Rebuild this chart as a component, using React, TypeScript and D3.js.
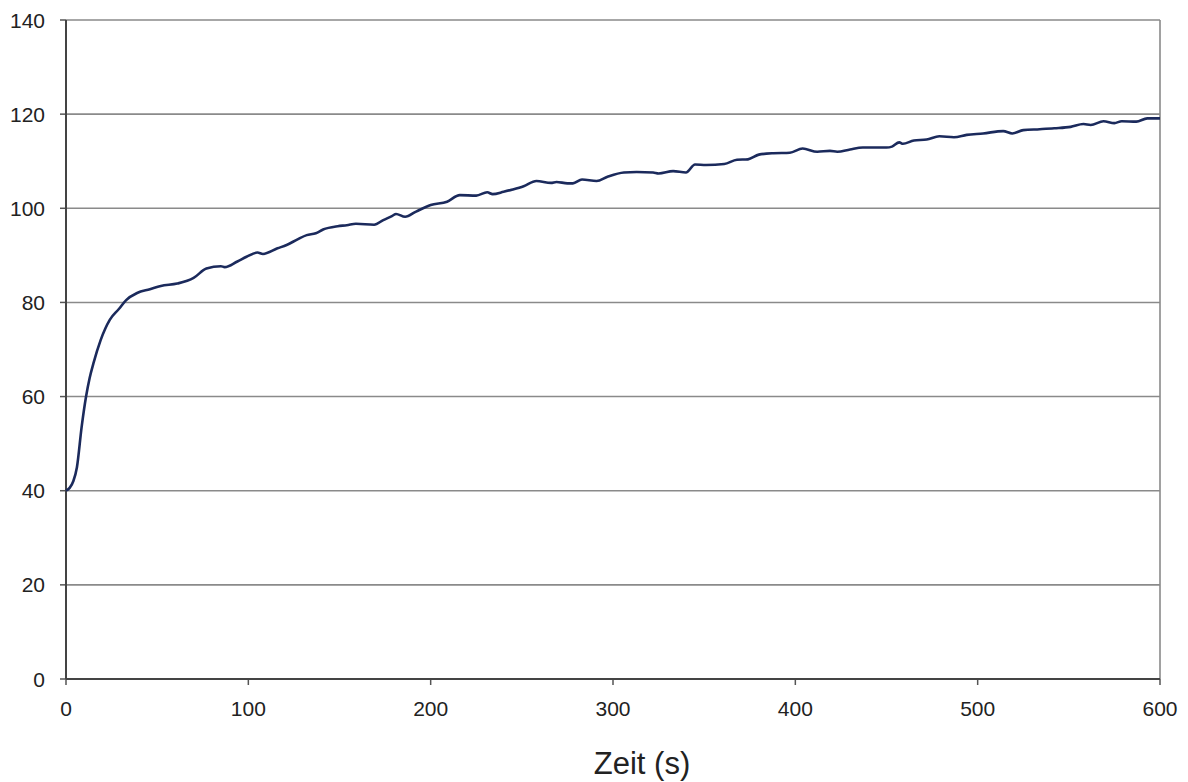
import React from 'react';
import * as d3 from 'd3';

const times = [0, 2, 4, 6, 8.6, 11, 13, 15, 19, 24, 29, 33, 39, 46, 52, 61, 70, 77, 85, 87, 94, 99, 105, 108, 116, 121, 127, 132, 137, 141, 149, 154, 159, 169, 174, 179, 181, 186, 192, 200, 209, 216, 225, 231, 234, 240, 245, 251, 258, 266, 269, 275, 278, 283, 291, 297, 306, 313, 322, 325, 333, 340, 345, 351, 361, 368, 374, 380, 388, 397, 404, 412, 419, 423, 430, 437, 450, 453, 457, 459, 465, 472, 479, 487, 494, 503, 514, 519, 525, 534, 542, 551, 558, 562, 569, 575, 579, 587, 593, 600];
const values = [40, 40.6, 42, 45, 53.6, 60, 64, 67, 72, 76.3, 78.6, 80.5, 82, 82.8, 83.5, 84, 85.2, 87.2, 87.7, 87.5, 88.7, 89.7, 90.6, 90.3, 91.5, 92.2, 93.4, 94.3, 94.7, 95.5, 96.2, 96.4, 96.7, 96.5, 97.5, 98.4, 98.8, 98.2, 99.3, 100.7, 101.4, 102.8, 102.7, 103.4, 103.0, 103.5, 104.0, 104.7, 105.8, 105.4, 105.6, 105.3, 105.3, 106.1, 105.8, 106.7, 107.6, 107.7, 107.6, 107.4, 107.9, 107.6, 109.3, 109.2, 109.4, 110.3, 110.4, 111.4, 111.7, 111.8, 112.7, 112.0, 112.2, 112.0, 112.5, 112.9, 112.9, 113.1, 114.0, 113.7, 114.4, 114.6, 115.3, 115.1, 115.6, 115.9, 116.4, 115.9, 116.6, 116.8, 117.0, 117.3, 117.9, 117.7, 118.5, 118.1, 118.5, 118.4, 119.1, 119.1];
const xTicks = [0, 100, 200, 300, 400, 500, 600];
const yTicks = [0, 20, 40, 60, 80, 100, 120, 140];

const width = 1188;
const height = 782;
const left = 66, right = 1160, top = 20, bottom = 679;
const font = '"Liberation Sans", Arial, sans-serif';

export default function App() {
    const x = d3.scaleLinear().domain([0, 600]).range([left, right]);
    const y = d3.scaleLinear().domain([0, 140]).range([bottom, top]);
    const pts = times.map((t, i) => [t, values[i]] as [number, number]);
    const line = d3.line<[number, number]>()
        .x(d => x(d[0]))
        .y(d => y(d[1]))
        .curve(d3.curveMonotoneX);

    return (
        <svg width={width} height={height} style={{position: 'absolute', left: 0, top: 0, background: '#fff'}}>
            {yTicks.filter(v => v > 0).map(v => (
                <line key={'g' + v} x1={left} x2={right} y1={y(v)} y2={y(v)} stroke="#8a8a8a" strokeWidth={1.6} />
            ))}
            <line x1={right} x2={right} y1={top} y2={bottom} stroke="#8a8a8a" strokeWidth={1.6} />
            {yTicks.map(v => (
                <g key={'y' + v}>
                    <line x1={left - 6} x2={left} y1={y(v)} y2={y(v)} stroke="#555" strokeWidth={1.5} />
                    <text x={45} y={y(v)} dy="0.36em" textAnchor="end" fontFamily={font} fontSize={21} fill="#222">{v}</text>
                </g>
            ))}
            {xTicks.map(v => (
                <g key={'x' + v}>
                    <line x1={x(v)} x2={x(v)} y1={bottom} y2={bottom + 6} stroke="#555" strokeWidth={1.5} />
                    <text x={x(v)} y={716} textAnchor="middle" fontFamily={font} fontSize={21} fill="#222">{v}</text>
                </g>
            ))}
            <line x1={left} x2={left} y1={top} y2={bottom} stroke="#444" strokeWidth={2} />
            <line x1={left} x2={right} y1={bottom} y2={bottom} stroke="#444" strokeWidth={2} />
            <path d={line(pts) || ''} fill="none" stroke="#1b2a5c" strokeWidth={2.6} strokeLinejoin="round" />
            <text x={642} y={774} textAnchor="middle" fontFamily={font} fontSize={31} fill="#222">Zeit (s)</text>
        </svg>
    );
}
